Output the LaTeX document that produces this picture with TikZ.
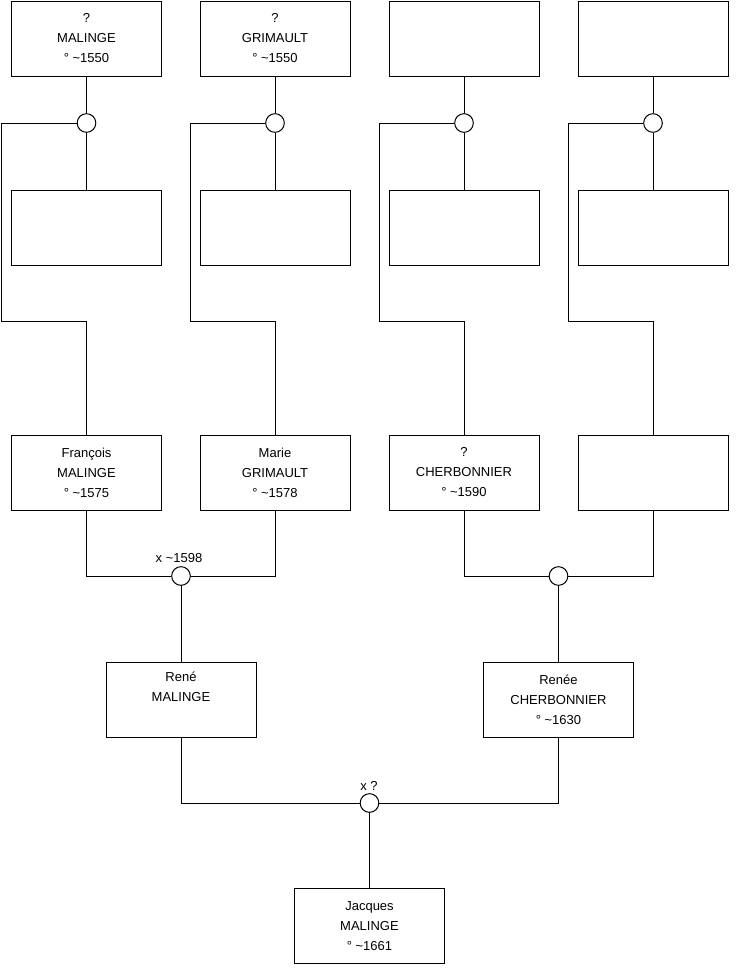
\documentclass[tikz,border=0pt]{standalone}
\usepackage{fontspec}
\setmainfont{Liberation Sans}
\usetikzlibrary{calc}
\newcommand{\born}[1]{°~\textasciitilde#1}

\begin{document}
\begin{tikzpicture}[x=0.75pt, y=-0.75pt, line width=0.75pt,
    person/.style={draw, rectangle, minimum width=112.5pt, minimum height=56.25pt,
      inner sep=0pt, align=center, font=\fontsize{9.75}{15}\selectfont,
      execute at end node={\endgraf\vspace{3pt}}},
    union/.style={draw, circle, fill=white, minimum size=14pt, inner sep=0pt},
    wedding/.style={inner sep=0pt, font=\fontsize{9.75}{15}\selectfont}]
    \useasboundingbox (0,0) rectangle (740,975);
    % great-grandparents (top row)
    \node[person] (g1) at (86.5,38.5) {?\\MALINGE\\\born{1550}};
    \node[person] (g2) at (275,38.5) {?\\GRIMAULT\\\born{1550}};
    \node[person] (g3) at (464,38.5) {};
    \node[person] (g4) at (653,38.5) {};
    % their spouses and unions
    \foreach \n/\x in {1/86.5,2/275,3/464,4/653}{
      \node[person] (s\n) at (\x,227.5) {};
      \node[union] (u\n) at (\x,123) {};
      \coordinate (k\n) at (\x-85,321);
    }
    % grandparents
    \node[person] (f1) at (86.5,472.5) {François\\MALINGE\\\born{1575}};
    \node[person] (f2) at (275,472.5) {Marie\\GRIMAULT\\\born{1578}};
    \node[person] (f3) at (464,472.5) {?\\CHERBONNIER\\\born{1590}};
    \node[person] (f4) at (653,472.5) {};
    % links to the children
    \foreach \n in {1,...,4}{
      \draw (g\n) -- (u\n) -- (s\n);
      \draw (u\n.west) -| (k\n) -| (f\n.north);
    }
    % parents
    \node[union] (m1) at (181,576) {};
    \node[union] (m2) at (558.5,576) {};
    \node[wedding] (w1) at (179,558) {x \textasciitilde1598};
    \node[person] (p1) at (181,699.5) {René\\MALINGE\\\strut};
    \node[person] (p2) at (558.5,699.5) {Renée\\CHERBONNIER\\\born{1630}};
    \draw (f1.south) |- (m1.west);
    \draw (f2.south) |- (m1.east);
    \draw (f3.south) |- (m2.west);
    \draw (f4.south) |- (m2.east);
    \draw (m1) -- (p1);
    \draw (m2) -- (p2);
    % child
    \node[union] (m3) at (369.5,803) {};
    \node[wedding] (w3) at (369,786) {x ?};
    \node[person] (c1) at (369.5,926) {Jacques\\MALINGE\\\born{1661}};
    \draw (p1.south) |- (m3.west);
    \draw (p2.south) |- (m3.east);
    \draw (m3) -- (c1);
\end{tikzpicture}
\end{document}
